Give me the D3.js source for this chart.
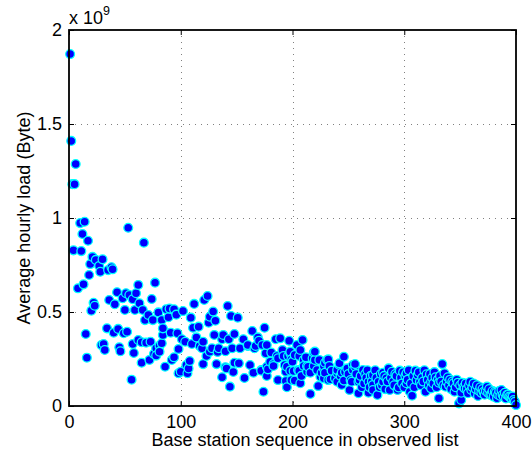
<!DOCTYPE html>
<html>
<head>
<meta charset="utf-8">
<script src="https://cdn.jsdelivr.net/npm/d3@7"></script>
<style>
  html, body { margin: 0; padding: 0; background: #fff; }
  svg { display: block; font-family: "Liberation Sans", Arial, Helvetica, sans-serif; }
</style>
</head>
<body>
<svg id="chart" width="532" height="456"></svg>
<script>
// Base station index in the observed list
const seq = [
  1,2,3,4,5,6,8,10,11,12,13,14,15,16,17,18,19,20,21,22,23,24,27,28,29,30,31,32,34,35,
  36,38,39,40,41,43,44,45,46,48,49,50,51,52,53,54,56,57,57,58,59,60,62,62,63,65,65,66,67,68,
  69,71,72,73,74,75,76,77,78,78,80,81,81,83,83,84,84,86,87,89,90,91,92,94,94,96,97,98,98,100,
  101,102,104,105,106,107,108,109,110,111,112,114,116,117,119,120,120,121,123,124,125,126,126,128,129,130,131,132,133,134,
  137,137,138,140,140,141,142,143,144,145,146,147,148,148,151,152,153,156,157,160,160,162,164,165,166,167,169,170,172,172,
  173,174,175,176,177,177,177,178,180,181,183,183,185,186,187,187,189,191,192,193,194,194,195,195,196,197,198,198,198,199,
  199,200,201,202,202,204,205,206,206,207,207,208,209,210,210,212,213,213,214,216,216,218,219,219,220,220,222,223,224,225,
  226,228,228,228,229,229,231,232,232,233,234,235,238,240,240,240,242,242,243,244,244,246,246,247,249,250,251,252,253,254,
  254,256,256,257,259,259,260,261,262,263,264,265,266,267,268,268,269,270,271,272,272,272,274,275,276,277,278,279,280,281,
  281,282,283,284,285,286,287,288,289,290,291,292,293,294,295,296,297,298,299,300,301,302,302,303,304,305,306,307,308,309,
  310,311,312,313,314,315,316,317,318,319,320,321,322,323,324,324,325,326,327,328,329,330,331,331,332,333,334,335,336,337,
  338,339,340,341,342,343,344,345,346,347,348,349,350,351,351,352,353,354,355,356,357,358,359,360,361,362,363,364,365,366,
  367,368,369,370,371,372,373,374,375,376,377,378,379,380,381,382,383,384,385,386,387,388,389,390,391,392,393,394,395,396,
  397,398,399,400
];

// Average hourly load per base station, in units of 10^9 Byte
const load = [
  1.872,1.41,1.18,0.828,1.18,1.287,0.626,0.973,0.824,0.915,0.647,0.98,0.383,0.257,0.879,0.697,0.755,0.507,0.793,0.549,0.533,0.777,0.745,0.714,0.324,0.78,0.33,0.298,0.413,0.723,
  0.564,0.738,0.727,0.39,0.541,0.605,0.41,0.312,0.291,0.573,0.387,0.511,0.6,0.395,0.948,0.59,0.14,0.568,0.33,0.282,0.511,0.6,0.644,0.351,0.546,0.23,0.339,0.511,0.869,0.457,
  0.337,0.484,0.245,0.342,0.569,0.457,0.277,0.656,0.307,0.268,0.498,0.321,0.289,0.334,0.457,0.378,0.413,0.209,0.514,0.472,0.518,0.39,0.245,0.514,0.259,0.486,0.387,0.303,0.174,0.182,
  0.355,0.505,0.342,0.218,0.174,0.2,0.239,0.47,0.33,0.416,0.543,0.365,0.422,0.319,0.307,0.342,0.223,0.564,0.266,0.585,0.443,0.475,0.289,0.307,0.502,0.378,0.454,0.223,0.287,0.307,
  0.355,0.153,0.378,0.291,0.206,0.2,0.532,0.355,0.103,0.479,0.307,0.181,0.383,0.23,0.47,0.227,0.307,0.355,0.149,0.319,0.324,0.218,0.399,0.177,0.307,0.319,0.365,0.347,0.191,0.188,
  0.324,0.076,0.416,0.28,0.324,0.209,0.16,0.195,0.236,0.284,0.223,0.213,0.355,0.266,0.254,0.138,0.36,0.298,0.266,0.218,0.182,0.133,0.209,0.1,0.266,0.347,0.28,0.289,0.188,0.248,
  0.138,0.236,0.186,0.271,0.135,0.324,0.191,0.266,0.188,0.298,0.121,0.16,0.351,0.245,0.213,0.259,0.213,0.182,0.209,0.177,0.064,0.254,0.284,0.213,0.245,0.289,0.191,0.106,0.245,0.156,
  0.177,0.2,0.213,0.147,0.177,0.23,0.245,0.248,0.138,0.213,0.142,0.188,0.147,0.174,0.129,0.191,0.218,0.227,0.16,0.177,0.112,0.262,0.135,0.182,0.2,0.17,0.085,0.138,0.129,0.218,
  0.191,0.209,0.223,0.17,0.068,0.129,0.138,0.16,0.1,0.191,0.12,0.17,0.15,0.19,0.071,0.129,0.1,0.16,0.13,0.165,0.112,0.085,0.19,0.15,0.059,0.129,0.1,0.17,0.11,0.177,
  0.129,0.16,0.09,0.147,0.13,0.2,0.085,0.15,0.182,0.129,0.11,0.17,0.16,0.085,0.099,0.188,0.15,0.12,0.18,0.1,0.16,0.174,0.121,0.14,0.19,0.076,0.12,0.055,0.16,0.1,
  0.188,0.138,0.165,0.18,0.129,0.11,0.15,0.13,0.19,0.076,0.169,0.14,0.11,0.17,0.129,0.094,0.15,0.12,0.18,0.153,0.1,0.14,0.041,0.124,0.16,0.13,0.223,0.11,0.174,0.103,
  0.13,0.153,0.11,0.14,0.09,0.13,0.121,0.076,0.1,0.14,0.124,0.014,0.11,0.032,0.071,0.124,0.1,0.094,0.12,0.09,0.068,0.11,0.129,0.085,0.1,0.12,0.068,0.09,0.11,0.053,
  0.08,0.1,0.07,0.09,0.076,0.06,0.08,0.103,0.07,0.09,0.059,0.06,0.08,0.05,0.076,0.07,0.041,0.06,0.08,0.053,0.085,0.06,0.05,0.07,0.04,0.059,0.06,0.05,0.046,0.04,
  0.05,0.032,0.023,0.005
];

const xTicks = [0, 100, 200, 300, 400];
const yTicks = [0, 0.5, 1, 1.5, 2];
const yTickLabels = ["0", "0.5", "1", "1.5", "2"];

const svg = d3.select("#chart");
const W = 532, H = 456;
const plot = { left: 69, right: 516, top: 30, bottom: 406 };
const fontSize = 18;

svg.append("rect").attr("width", W).attr("height", H).attr("fill", "#fff");

const x = d3.scaleLinear().domain([0, 400]).range([plot.left, plot.right]);
const y = d3.scaleLinear().domain([0, 2]).range([plot.bottom, plot.top]);

// dotted grid
const grid = svg.append("g")
  .attr("stroke", "#808080")
  .attr("stroke-width", 1)
  .attr("stroke-dasharray", "1,5");
grid.selectAll("line.gx").data(xTicks.slice(1, -1)).join("line")
  .attr("x1", d => Math.round(x(d)) + 0.5).attr("x2", d => Math.round(x(d)) + 0.5)
  .attr("y1", plot.top).attr("y2", plot.bottom);
grid.selectAll("line.gy").data(yTicks.slice(1, -1)).join("line")
  .attr("y1", d => Math.round(y(d)) + 0.5).attr("y2", d => Math.round(y(d)) + 0.5)
  .attr("x1", plot.left).attr("x2", plot.right);

// scatter points
svg.append("g").selectAll("circle")
  .data(seq.map((s, i) => [s, load[i]]))
  .join("circle")
  .attr("cx", d => x(d[0]))
  .attr("cy", d => y(d[1]))
  .attr("r", 4.4)
  .attr("fill", "#0000ff")
  .attr("stroke", "#00ffff")
  .attr("stroke-width", 1.3);

// axes with inward ticks on all four sides
const tickLen = 5;
const bottomAxis = d3.axisBottom(x).tickValues(xTicks).tickFormat(d3.format("d"))
  .tickSizeInner(-tickLen).tickSizeOuter(0).tickPadding(9);
const leftAxis = d3.axisLeft(y).tickValues(yTicks).tickFormat((d, i) => yTickLabels[i])
  .tickSizeInner(-tickLen).tickSizeOuter(0).tickPadding(7);
const topAxis = d3.axisTop(x).tickValues(xTicks).tickFormat("").tickSizeInner(-tickLen).tickSizeOuter(0);
const rightAxis = d3.axisRight(y).tickValues(yTicks).tickFormat("").tickSizeInner(-tickLen).tickSizeOuter(0);

function styleAxis(g) {
  g.select(".domain").remove();
  g.selectAll(".tick line").attr("stroke", "#000").attr("stroke-width", 1);
  g.selectAll(".tick text").attr("fill", "#000").attr("font-size", fontSize)
    .attr("font-family", "Liberation Sans, Arial, sans-serif");
}

svg.append("g").attr("transform", `translate(0,${plot.bottom})`).call(bottomAxis).call(styleAxis);
svg.append("g").attr("transform", `translate(${plot.left},0)`).call(leftAxis).call(styleAxis);
svg.append("g").attr("transform", `translate(0,${plot.top})`).call(topAxis).call(styleAxis);
svg.append("g").attr("transform", `translate(${plot.right},0)`).call(rightAxis).call(styleAxis);

// box
svg.append("rect")
  .attr("x", plot.left).attr("y", plot.top)
  .attr("width", plot.right - plot.left).attr("height", plot.bottom - plot.top)
  .attr("fill", "none").attr("stroke", "#000").attr("stroke-width", 1.8);

// exponent label
const expo = svg.append("text")
  .attr("x", plot.left).attr("y", 24)
  .attr("font-size", fontSize).attr("fill", "#000");
expo.append("tspan").text("x 10");
expo.append("tspan").attr("dy", -9).attr("font-size", 12.5).text("9");

// axis titles
svg.append("text")
  .attr("x", 305).attr("y", 446)
  .attr("text-anchor", "middle").attr("font-size", fontSize).attr("fill", "#000")
  .text("Base station sequence in observed list");

svg.append("text")
  .attr("transform", `translate(30,${(plot.top + plot.bottom) / 2}) rotate(-90)`)
  .attr("text-anchor", "middle").attr("font-size", fontSize).attr("fill", "#000")
  .text("Average hourly load (Byte)");
</script>
</body>
</html>
